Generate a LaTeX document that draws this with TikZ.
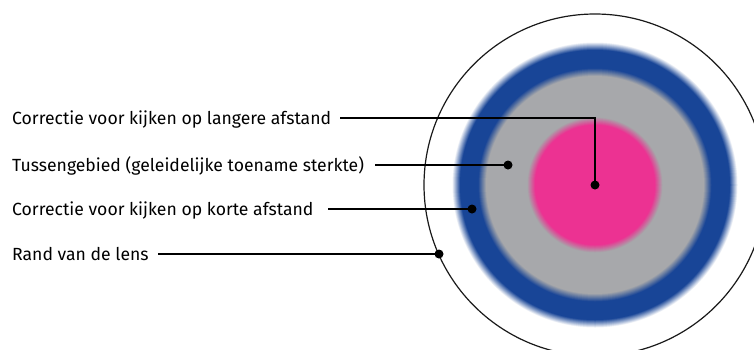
\documentclass[tikz,border=0pt]{standalone}
\usepackage{fontspec}
\setmainfont{Fira Sans}
\definecolor{lensblue}{RGB}{24,69,151}
\definecolor{lensgray}{RGB}{167,168,171}
\definecolor{lenspink}{RGB}{236,50,146}
\tikzset{
  lbl/.style={anchor=base west, inner sep=0pt, font=\fontsize{17.6}{20}\selectfont, text=black},
  conn/.style={line width=1.5pt, black},
  dotmark/.style={circle, fill=black, inner sep=0pt, minimum size=9pt},
  rim/.style={line width=1.2pt, black!90}
}
\begin{document}
\begin{tikzpicture}[x=1pt,y=-1pt]
\clip (0,0) rectangle (754,349);
\fill[white] (0,0) rectangle (754,349);
\coordinate (c) at (595,185);
% blurred blue outer edge
\foreach \i in {0,...,16}{
  \pgfmathsetmacro{\rr}{143-\i*0.5}
  \pgfmathsetmacro{\pp}{\i*100/16}
  \fill[lensblue!\pp!white] (c) circle[radius=\rr pt];
}
% blue -> gray
\foreach \i in {0,...,16}{
  \pgfmathsetmacro{\rr}{117-\i*0.5}
  \pgfmathsetmacro{\pp}{\i*100/16}
  \fill[lensgray!\pp!lensblue] (c) circle[radius=\rr pt];
}
% gray -> pink
\foreach \i in {0,...,16}{
  \pgfmathsetmacro{\rr}{68-\i*0.5}
  \pgfmathsetmacro{\pp}{\i*100/16}
  \fill[lenspink!\pp!lensgray] (c) circle[radius=\rr pt];
}
% rim
\draw[rim] (c) circle[radius=171pt];
% labels
\node[lbl] (l1) at (12,124) {Correctie voor kijken op langere afstand};
\node[lbl] (l2) at (12,171) {Tussengebied (geleidelijke toename sterkte)};
\node[lbl] (l3) at (12,215) {Correctie voor kijken op korte afstand};
\node[lbl] (l4) at (12,260) {Rand van de lens};
% dots
\node[dotmark] (d1) at (595,185) {};
\node[dotmark] (d2) at (508,165) {};
\node[dotmark] (d3) at (472,209) {};
\node[dotmark] (d4) at (439,254) {};
\coordinate (k1) at (595,118);
\coordinate (s1) at (340,118);
\coordinate (s2) at (375,165);
\coordinate (s3) at (328,209);
\coordinate (s4) at (158,254);
% connectors
\draw[conn] (s1) -- (k1) -- (d1.center);
\draw[conn] (s2) -- (d2.center);
\draw[conn] (s3) -- (d3.center);
\draw[conn] (s4) -- (d4.center);
\end{tikzpicture}
\end{document}
